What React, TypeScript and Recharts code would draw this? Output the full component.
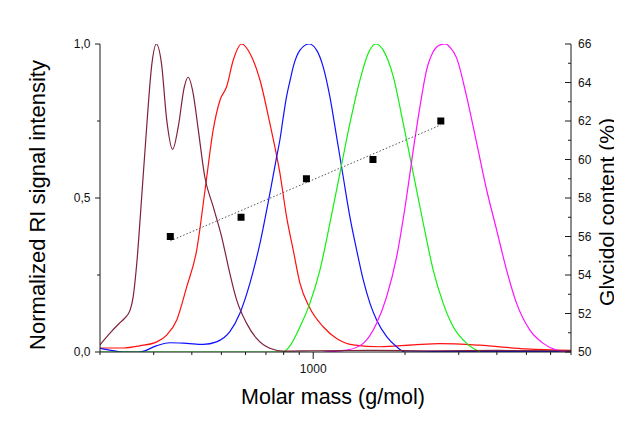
import React from 'react';
import { ComposedChart, Line, Scatter, XAxis, YAxis, Label } from 'recharts';

const FONT = '"Liberation Sans", Arial, Helvetica, sans-serif';

// Molar mass (g/mol) and normalized RI signal for each fraction
const fraction1Mass = [200, 216, 232, 240, 251, 257, 264, 274, 284, 296, 306, 318, 331, 346, 361, 378, 389, 404, 420, 441, 470, 501, 533, 561, 605, 652, 721, 797, 1000, 1500, 2500, 4000, 7000];
const fraction1RI = [0.023, 0.062, 0.094, 0.108, 0.136, 0.18, 0.288, 0.504, 0.721, 0.937, 1.0, 0.938, 0.753, 0.658, 0.731, 0.861, 0.892, 0.84, 0.721, 0.569, 0.472, 0.374, 0.255, 0.169, 0.093, 0.044, 0.012, 0.003, 0.004, 0.005, 0.004, 0.005, 0.004];

const fraction2Mass = [200, 238, 270, 307, 331, 357, 385, 415, 442, 470, 495, 520, 547, 582, 620, 669, 721, 778, 818, 860, 905, 970, 1078, 1193, 1353, 1655, 2128, 2600, 3500, 5000, 7000];
const fraction2RI = [0.013, 0.013, 0.02, 0.033, 0.055, 0.104, 0.212, 0.331, 0.526, 0.721, 0.818, 0.861, 0.948, 1.0, 0.97, 0.883, 0.742, 0.58, 0.439, 0.331, 0.223, 0.147, 0.082, 0.044, 0.023, 0.017, 0.023, 0.027, 0.022, 0.01, 0.005];

const fraction3Mass = [200, 215, 238, 270, 306, 339, 385, 436, 482, 533, 575, 620, 669, 721, 759, 778, 797, 818, 839, 860, 905, 970, 1026, 1078, 1134, 1193, 1254, 1319, 1388, 1459, 1535, 1614, 1741, 1877, 1998, 3000, 7000];
const fraction3RI = [0.012, 0.006, 0.0, 0.0, 0.02, 0.03, 0.028, 0.025, 0.033, 0.066, 0.126, 0.223, 0.353, 0.515, 0.634, 0.69, 0.76, 0.83, 0.88, 0.926, 0.98, 1.0, 0.98, 0.926, 0.829, 0.699, 0.569, 0.439, 0.331, 0.234, 0.158, 0.104, 0.05, 0.017, 0.0, 0.002, 0.002];

const fraction4Mass = [200, 797, 839, 905, 975, 1052, 1134, 1223, 1319, 1423, 1515, 1606, 1696, 1830, 1973, 2128, 2295, 2474, 2668, 2877, 3184, 3522];
const fraction4RI = [0.0, 0.0, 0.02, 0.082, 0.158, 0.266, 0.418, 0.58, 0.742, 0.883, 0.97, 1.0, 0.98, 0.894, 0.742, 0.58, 0.418, 0.266, 0.158, 0.082, 0.028, 0.0];

const fraction5Mass = [1078, 1287, 1459, 1614, 1741, 1877, 2024, 2128, 2238, 2354, 2474, 2620, 2720, 2806, 2952, 3184, 3435, 3704, 3994, 4305, 4643, 5134, 5677, 6281, 7000];
const fraction5RI = [0.0, 0.006, 0.028, 0.093, 0.18, 0.309, 0.504, 0.656, 0.796, 0.916, 0.975, 0.998, 1.0, 0.99, 0.955, 0.829, 0.678, 0.526, 0.396, 0.266, 0.158, 0.071, 0.028, 0.006, 0.0];

// Glycidol content (%) at the molar mass of each fraction
const glycidolMass = [340, 580, 950, 1570, 2620];
const glycidolContent = [56, 57, 59, 60, 62];

// Axis ticks
const massTicks = [200, 300, 400, 500, 600, 700, 800, 900, 1000, 2000, 3000, 4000, 5000, 6000, 7000];
const massLabels = [1000];
const riTicks = [0, 0.25, 0.5, 0.75, 1];
const riLabels = [0, 0.5, 1];
const glycidolTicks = [50, 51, 52, 53, 54, 55, 56, 57, 58, 59, 60, 61, 62, 63, 64, 65, 66];

const toPoints = (mass: number[], values: number[]) => mass.map((m, i) => ({ m, v: values[i] }));

const fraction1 = toPoints(fraction1Mass, fraction1RI);
const fraction2 = toPoints(fraction2Mass, fraction2RI);
const fraction3 = toPoints(fraction3Mass, fraction3RI);
const fraction4 = toPoints(fraction4Mass, fraction4RI);
const fraction5 = toPoints(fraction5Mass, fraction5RI);
const glycidolPoints = toPoints(glycidolMass, glycidolContent);

// Least-squares trend of glycidol content against log(molar mass)
function trendLine() {
  const xs = glycidolMass.map((m) => Math.log10(m));
  const n = xs.length;
  const mx = xs.reduce((a, b) => a + b, 0) / n;
  const my = glycidolContent.reduce((a, b) => a + b, 0) / n;
  let sxy = 0;
  let sxx = 0;
  xs.forEach((x, i) => {
    sxy += (x - mx) * (glycidolContent[i] - my);
    sxx += (x - mx) * (x - mx);
  });
  const slope = sxy / sxx;
  const ends = [glycidolMass[0], glycidolMass[n - 1]];
  return ends.map((m) => ({ m, v: my + slope * (Math.log10(m) - mx) }));
}
const glycidolTrend = trendLine();

// Layout
const CHART_W = 614;
const CHART_H = 424;
const AXIS = '#1a1a1a';

const MassTick = (props: any) => {
  const { x, y, payload } = props;
  const labelled = massLabels.includes(payload.value);
  return (
    <g>
      <line x1={x} x2={x} y1={y} y2={y + (labelled ? 7 : 3)} stroke={AXIS} strokeWidth={1} />
      {labelled && (
        <text x={x} y={y + 20.5} textAnchor="middle" fontSize={12} fontFamily={FONT} fill="#111">
          {payload.value}
        </text>
      )}
    </g>
  );
};

const RITick = (props: any) => {
  const { x, y, payload } = props;
  const labelled = riLabels.includes(payload.value);
  return (
    <g>
      <line x1={x - (labelled ? 5 : 3)} x2={x} y1={y} y2={y} stroke={AXIS} strokeWidth={1} />
      {labelled && (
        <text x={x - 9.5} y={y + 4.3} textAnchor="end" fontSize={12} fontFamily={FONT} fill="#111">
          {payload.value.toFixed(1).replace('.', ',')}
        </text>
      )}
    </g>
  );
};

const GlycidolTick = (props: any) => {
  const { x, y, payload } = props;
  const labelled = payload.value % 2 === 0;
  return (
    <g>
      <line x1={x - (labelled ? 6 : 3)} x2={x} y1={y} y2={y} stroke={AXIS} strokeWidth={1} />
      {labelled && (
        <text x={x + 7} y={y + 4.3} textAnchor="start" fontSize={12} fontFamily={FONT} fill="#111">
          {payload.value}
        </text>
      )}
    </g>
  );
};

const SquareMarker = (props: any) => {
  const { cx, cy } = props;
  return <rect x={cx - 3.5} y={cy - 3.5} width={7} height={7} fill="#000" />;
};

const titleStyle = { fontFamily: FONT, fill: '#000' };

const LeftTitle = () => {
  const cx = 37;
  const cy = 197;
  return (
    <text x={cx} y={cy} transform={`rotate(-90 ${cx} ${cy})`} textAnchor="middle" fontSize={22} style={titleStyle}>
      Normalized RI signal intensity
    </text>
  );
};

const RightTitle = () => {
  const cx = 606;
  const cy = 204;
  return (
    <text x={cx} y={cy} transform={`rotate(-90 ${cx} ${cy})`} textAnchor="middle" fontSize={21} style={titleStyle}>
      Glycidol content (%)
    </text>
  );
};

const BottomTitle = () => (
  <text x={325} y={396} textAnchor="middle" fontSize={21.5} style={titleStyle}>
    Molar mass (g/mol)
  </text>
);

export default function App() {
  return (
    <div style={{ width: CHART_W, height: CHART_H, background: '#fff' }}>
      <ComposedChart
        width={CHART_W}
        height={CHART_H}
        margin={{ top: 36, right: 0, bottom: 0, left: 0 }}
        style={{ overflow: 'visible' }}
      >
        <XAxis
          xAxisId="mass"
          dataKey="m"
          type="number"
          scale="log"
          domain={[200, 7000]}
          allowDataOverflow
          ticks={massTicks}
          interval={0}
          height={80}
          tickSize={0}
          tickMargin={0}
          tickLine={false}
          tick={<MassTick />}
          axisLine={{ stroke: AXIS, strokeWidth: 1 }}
        >
          <Label content={<BottomTitle />} />
        </XAxis>
        <YAxis
          yAxisId="ri"
          type="number"
          domain={[0, 1]}
          allowDataOverflow
          ticks={riTicks}
          interval={0}
          width={92}
          tickSize={0}
          tickMargin={0}
          tickLine={false}
          tick={<RITick />}
          axisLine={{ stroke: AXIS, strokeWidth: 1 }}
        >
          <Label content={<LeftTitle />} />
        </YAxis>
        <YAxis
          yAxisId="gly"
          orientation="right"
          type="number"
          domain={[50, 66]}
          allowDataOverflow
          ticks={glycidolTicks}
          interval={0}
          width={51}
          tickSize={0}
          tickMargin={0}
          tickLine={false}
          tick={<GlycidolTick />}
          axisLine={{ stroke: AXIS, strokeWidth: 1 }}
        >
          <Label content={<RightTitle />} />
        </YAxis>

        <Line data={fraction2} dataKey="v" xAxisId="mass" yAxisId="ri" type="monotone" stroke="#ff1010" strokeWidth={1.2} dot={false} isAnimationActive={false} />
        <Line data={fraction3} dataKey="v" xAxisId="mass" yAxisId="ri" type="monotone" stroke="#1010ff" strokeWidth={1.2} dot={false} isAnimationActive={false} />
        <Line data={fraction4} dataKey="v" xAxisId="mass" yAxisId="ri" type="monotone" stroke="#10f010" strokeWidth={1.2} dot={false} isAnimationActive={false} />
        <Line data={fraction5} dataKey="v" xAxisId="mass" yAxisId="ri" type="monotone" stroke="#ff10ff" strokeWidth={1.2} dot={false} isAnimationActive={false} />
        <Line data={fraction1} dataKey="v" xAxisId="mass" yAxisId="ri" type="monotone" stroke="#7e2238" strokeWidth={1.2} dot={false} isAnimationActive={false} />

        <Line data={glycidolTrend} dataKey="v" xAxisId="mass" yAxisId="gly" type="linear" stroke="#555" strokeWidth={1} strokeDasharray="1.5 2" dot={false} isAnimationActive={false} />
        <Scatter data={glycidolPoints} dataKey="v" xAxisId="mass" yAxisId="gly" fill="#000" shape={<SquareMarker />} isAnimationActive={false} />
      </ComposedChart>
    </div>
  );
}
